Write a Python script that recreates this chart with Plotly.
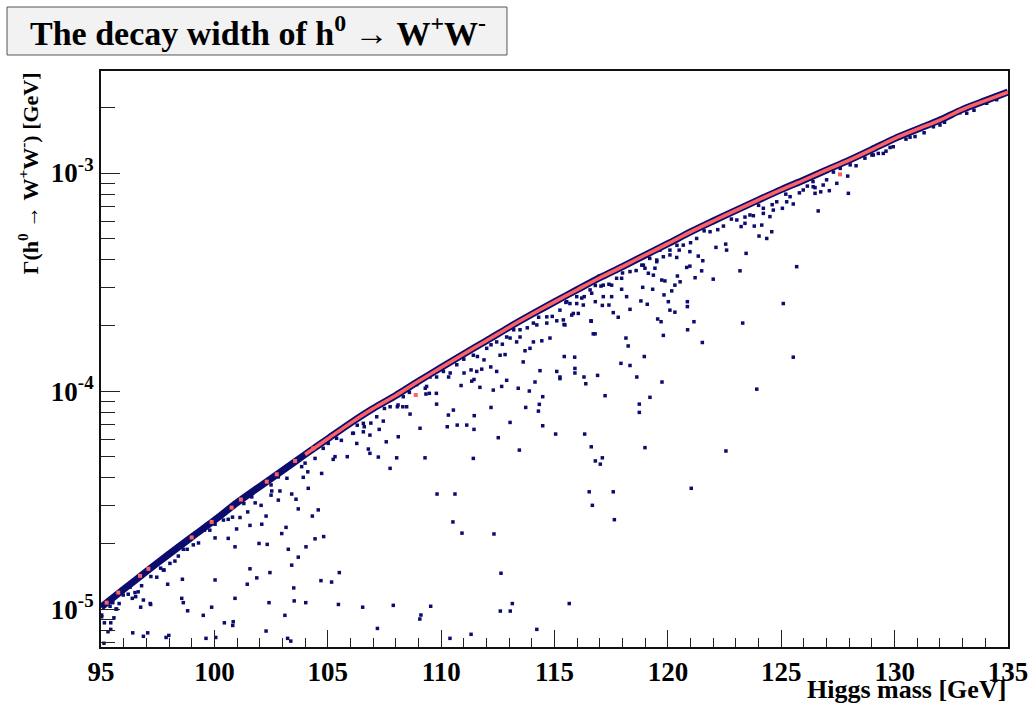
import plotly.graph_objects as go

# Upper edge of the dense band: h0 -> W+W- width at integer Higgs masses
curve_mass = [95, 96, 97, 98, 99, 100, 101, 102, 103, 104, 105, 106, 107, 108, 109, 110,
              111, 112, 113, 114, 115, 116, 117, 118, 119, 120, 121, 122, 123, 124, 125,
              126, 127, 128, 129, 130, 131, 132, 133, 134, 135]
curve_width = [1.019e-5, 1.233e-5, 1.486e-5, 1.786e-5, 2.138e-5, 2.553e-5, 3.076e-5,
               3.648e-5, 4.315e-5, 5.117e-5, 6.039e-5, 7.129e-5, 8.318e-5, 9.55e-5,
               1.109e-4, 1.282e-4, 1.479e-4, 1.702e-4, 1.963e-4, 2.249e-4, 2.564e-4,
               2.917e-4, 3.311e-4, 3.724e-4, 4.207e-4, 4.742e-4, 5.370e-4, 6.026e-4,
               6.745e-4, 7.534e-4, 8.395e-4, 9.290e-4, 1.033e-3, 1.146e-3, 1.282e-3,
               1.439e-3, 1.589e-3, 1.750e-3, 1.959e-3, 2.148e-3, 2.350e-3]

# Red (SM-like) points sitting on the upper edge
red_mass = [95.25, 95.76, 96.72, 97.09, 99.00, 99.88, 100.76, 101.17, 102.31, 102.75,
            103.56, 104.36, 108.88, 127.59]
red_width = [1.07e-5, 1.19e-5, 1.42e-5, 1.53e-5, 2.13e-5, 2.51e-5, 2.92e-5, 3.18e-5,
             3.84e-5, 4.15e-5, 4.78e-5, 5.46e-5, 9.59e-5, 9.86e-4]

# Points just below the band edge
fringe_mass = [98.41, 98.26, 98.04, 97.78, 97.63, 98.63, 99.07, 99.56, 100.03, 100.61,
               101.65, 102.82, 103.85, 104.44, 96.50, 96.64, 96.79, 96.28, 95.98,
               105.02, 105.39, 106.13, 106.57, 107.16, 107.75, 108.33, 108.92, 109.51,
               110.10, 110.69, 111.42, 112.01, 112.45, 112.89, 113.48, 114.07, 114.66,
               115.24, 115.68, 115.54, 115.98, 116.57, 117.15, 117.74, 118.33, 118.92,
               119.51, 120.09, 120.68, 121.27, 121.86, 122.45, 123.04, 123.62, 124.21,
               124.80, 125.39, 125.97, 126.41, 127.30, 128.04, 129.50, 130.68, 132.00,
               133.18, 134.06,
               100.4, 100.8, 101.3, 101.8, 102.5, 103.2, 104.0, 104.8, 105.6, 106.3,
               106.9, 107.5, 108.1, 108.6, 109.3, 109.8, 110.4, 111.0, 111.6, 112.2,
               112.7, 113.2, 113.8, 114.3, 114.9, 115.5, 116.2, 116.8, 117.4, 118.0,
               118.6, 119.2, 119.8, 120.4, 121.0, 121.6, 122.2, 122.8, 123.4, 124.0,
               124.6, 125.2, 125.8, 126.4, 127.0, 127.6, 128.3, 129.0, 129.8, 130.5,
               131.3, 132.2, 133.5, 134.5, 95.4, 95.8, 96.2, 97.2, 98.8, 99.3, 99.8]
fringe_width = [1.75e-5, 1.66e-5, 1.62e-5, 1.51e-5, 1.54e-5, 1.88e-5, 1.97e-5, 2.30e-5,
                2.45e-5, 2.58e-5, 3.27e-5, 4.04e-5, 4.50e-5, 4.91e-5, 1.19e-5, 1.20e-5,
                1.28e-5, 1.26e-5, 1.16e-5, 5.75e-5, 6.07e-5, 6.40e-5, 7.11e-5, 7.62e-5,
                8.47e-5, 9.42e-5, 1.07e-4, 1.16e-4, 1.23e-4, 1.32e-4, 1.46e-4, 1.57e-4,
                1.68e-4, 1.77e-4, 1.91e-4, 2.05e-4, 2.19e-4, 2.35e-4, 2.52e-4, 2.57e-4,
                2.71e-4, 2.91e-4, 3.06e-4, 3.29e-4, 3.53e-4, 3.78e-4, 3.99e-4, 4.43e-4,
                4.67e-4, 5.01e-4, 5.38e-4, 5.71e-4, 6.09e-4, 6.42e-4, 6.89e-4, 7.38e-4,
                7.79e-4, 8.36e-4, 8.65e-4, 1.01e-3, 1.09e-3, 1.23e-3, 1.46e-3, 1.66e-3,
                1.88e-3, 2.09e-3,
                2.56e-5, 2.64e-5, 3.05e-5, 3.07e-5, 3.71e-5, 3.98e-5, 4.67e-5, 5.46e-5,
                5.94e-5, 6.97e-5, 7.13e-5, 8.32e-5, 8.63e-5, 9.86e-5, 1.03e-4, 1.16e-4,
                1.21e-4, 1.40e-4, 1.44e-4, 1.63e-4, 1.64e-4, 1.91e-4, 1.95e-4, 2.18e-4,
                2.20e-4, 2.55e-4, 2.67e-4, 3.05e-4, 3.09e-4, 3.48e-4, 3.57e-4, 4.06e-4,
                4.13e-4, 4.66e-4, 4.79e-4, 5.43e-4, 5.50e-4, 6.15e-4, 6.28e-4, 7.11e-4,
                7.16e-4, 8.00e-4, 8.11e-4, 9.14e-4, 9.31e-4, 1.05e-3, 1.08e-3, 1.21e-3,
                1.31e-3, 1.43e-3, 1.53e-3, 1.71e-3, 1.94e-3, 2.17e-3, 1.03e-5, 1.06e-5,
                1.17e-5, 1.41e-5, 1.88e-5, 2.01e-5, 2.30e-5]

# Scattered model points well below the band
scatter_mass = [
    105.32, 105.24, 104.73, 104.12, 103.92, 104.14, 103.60, 103.41, 102.89, 102.53,
    102.50, 102.82, 103.70, 104.58, 104.32, 103.16, 102.97, 102.06, 102.28, 102.09,
    101.57, 101.47, 101.13, 100.98, 100.61, 100.03, 100.91, 101.97, 102.33, 103.26,
    103.70, 104.04, 104.44, 104.82, 103.41, 101.57, 101.87, 102.45, 101.45, 100.03,
    98.59, 97.94, 97.46, 97.75, 103.50, 104.70, 105.17, 105.51, 100.91, 102.41,
    103.52, 104.03, 105.47, 99.88, 98.56, 98.63, 98.82, 99.51, 103.11, 97.17,
    96.75, 96.87, 96.38, 96.53, 95.66, 95.57, 95.03,
    115.98, 115.83, 115.39, 115.10, 114.66, 114.22, 114.80, 114.44, 114.07, 113.92,
    113.70, 113.48, 113.33, 113.04, 112.82, 112.60, 111.89, 112.19, 112.45, 112.89,
    112.30, 112.67, 113.40, 113.62, 114.36, 114.14, 113.89, 114.48, 114.33, 114.29,
    113.73, 115.10, 115.24, 115.90, 115.90, 115.43, 111.57, 111.32, 111.79, 111.01,
    111.35, 111.45, 110.88, 111.71, 110.33, 109.79, 109.80, 109.48, 109.33, 109.36,
    108.48, 108.31, 108.07, 108.63, 110.32, 110.54, 111.46, 112.20, 113.04, 114.48,
    115.05, 113.45, 112.52, 111.42, 111.13, 110.71, 110.27, 111.45, 109.07, 108.11,
    107.58, 106.86, 106.28, 106.79, 106.86, 105.86, 107.23, 108.04, 109.29, 107.75,
    107.45, 106.57, 106.61, 106.10, 107.27,
    126.49, 126.63, 125.53, 125.24, 125.05, 124.65, 124.50, 124.21, 124.14, 124.58,
    124.36, 124.02, 123.81, 123.77, 123.40, 123.23, 125.68, 125.09, 123.45, 123.18,
    122.59, 122.55, 122.12, 122.00, 123.30, 121.20, 121.54, 121.49, 120.97, 120.83,
    121.34, 120.97, 120.54, 120.42, 120.31, 120.17, 119.87, 119.73, 119.83, 120.02,
    120.31, 120.09, 120.86, 120.86, 121.15, 119.55, 119.70, 119.09, 118.81, 118.89,
    119.33, 119.36, 119.14, 118.85, 118.99, 119.43, 119.51, 120.09, 120.39, 120.50,
    119.65, 118.33, 117.96, 117.59, 117.81, 117.11, 117.40, 116.80, 116.64, 117.15,
    117.52, 117.96, 117.52, 117.05, 116.98, 116.31, 116.27, 116.05, 115.76, 115.46,
    116.61, 118.18,
    125.53, 123.92, 122.56, 121.03, 121.52, 120.87, 119.80, 119.74, 119.21, 118.96,
    118.99, 118.74, 118.74, 118.63, 118.33, 117.93, 118.25, 118.15, 117.23, 116.90,
    116.79, 116.71, 116.62, 116.38, 116.30, 115.89, 115.24, 115.42, 116.33, 116.62,
    117.11, 116.80, 117.02, 116.53, 117.59, 116.67, 117.64,
    127.93, 127.96, 127.45, 127.12, 126.85, 126.74, 126.49, 126.15, 129.28, 129.06,
    128.69, 129.62, 129.94, 130.90, 131.71, 132.88,
    95.52, 95.69, 97.19, 100.44, 100.81, 100.83, 102.28, 106.54, 107.89, 109.11,
    109.06, 109.54, 112.61, 113.05, 113.14, 115.65, 107.19, 111.32, 110.39, 114.22,
    99.63, 100.06, 96.40, 96.87, 97.06, 97.87, 97.99, 103.23, 103.37, 95.13,
    95.31, 95.43, 95.15, 95.43, 95.03,
    109.82, 110.61, 110.52, 110.92, 112.33, 112.64,
]
scatter_width = [
    5.00e-5, 4.86e-5, 4.19e-5, 4.26e-5, 4.02e-5, 3.58e-5, 3.19e-5, 3.37e-5, 3.48e-5, 3.48e-5,
    3.33e-5, 3.16e-5, 2.88e-5, 2.85e-5, 2.67e-5, 2.37e-5, 2.22e-5, 2.99e-5, 2.67e-5, 2.45e-5,
    2.42e-5, 2.79e-5, 2.63e-5, 2.33e-5, 2.11e-5, 2.12e-5, 1.93e-5, 2.00e-5, 1.98e-5, 1.88e-5,
    1.73e-5, 1.93e-5, 2.10e-5, 2.15e-5, 1.59e-5, 1.53e-5, 1.39e-5, 1.47e-5, 1.30e-5, 1.36e-5,
    1.37e-5, 1.30e-5, 1.40e-5, 1.51e-5, 1.25e-5, 1.35e-5, 1.33e-5, 1.47e-5, 1.12e-5, 1.07e-5,
    1.09e-5, 1.07e-5, 1.05e-5, 1.02e-5, 1.12e-5, 1.07e-5, 9.82e-6, 9.36e-6, 9.36e-6, 1.06e-5,
    1.02e-5, 1.10e-5, 1.12e-5, 1.14e-5, 1.00e-5, 9.12e-6, 9.22e-6,
    2.52e-4, 2.27e-4, 2.12e-4, 2.10e-4, 2.05e-4, 2.01e-4, 1.75e-4, 1.70e-4, 1.68e-4, 1.57e-4,
    1.53e-4, 1.77e-4, 1.68e-4, 1.75e-4, 1.47e-4, 1.46e-4, 1.39e-4, 1.29e-4, 1.23e-4, 1.12e-4,
    1.01e-4, 1.05e-4, 1.03e-4, 1.36e-4, 1.24e-4, 1.10e-4, 1.00e-4, 9.42e-5, 8.69e-5, 8.09e-5,
    8.41e-5, 1.23e-4, 1.16e-4, 1.27e-4, 1.21e-4, 1.44e-4, 1.23e-4, 1.25e-4, 1.26e-4, 1.21e-4,
    1.11e-4, 1.13e-4, 1.06e-4, 1.04e-4, 1.16e-4, 9.76e-5, 8.71e-5, 9.76e-5, 9.69e-5, 1.05e-4,
    8.47e-5, 8.47e-5, 8.47e-5, 7.84e-5, 7.76e-5, 8.18e-5, 7.71e-5, 8.41e-5, 7.18e-5, 6.93e-5,
    6.35e-5, 5.36e-5, 6.11e-5, 4.91e-5, 6.98e-5, 6.98e-5, 6.86e-5, 6.67e-5, 6.75e-5, 6.17e-5,
    5.85e-5, 6.28e-5, 5.75e-5, 5.42e-5, 5.18e-5, 5.00e-5, 4.98e-5, 4.94e-5, 4.94e-5, 4.42e-5,
    7.28e-5, 6.50e-5, 6.86e-5, 6.40e-5, 6.67e-5,
    8.07e-4, 6.70e-4, 7.21e-4, 7.38e-4, 6.89e-4, 6.76e-4, 6.31e-4, 6.53e-4, 5.77e-4, 5.38e-4,
    5.01e-4, 5.14e-4, 5.71e-4, 6.37e-4, 5.88e-4, 5.68e-4, 3.72e-4, 2.52e-4, 4.28e-4, 3.56e-4,
    4.43e-4, 4.72e-4, 4.56e-4, 3.26e-4, 2.05e-4, 3.31e-4, 3.96e-4, 3.56e-4, 3.74e-4, 3.69e-4,
    4.16e-4, 4.36e-4, 3.17e-4, 3.37e-4, 3.06e-4, 2.88e-4, 3.20e-4, 3.23e-4, 2.76e-4, 2.57e-4,
    2.30e-4, 2.35e-4, 2.57e-4, 2.44e-4, 2.08e-4, 2.14e-4, 2.08e-4, 2.50e-4, 2.59e-4, 2.99e-4,
    2.93e-4, 3.40e-4, 3.47e-4, 3.78e-4, 3.66e-4, 3.66e-4, 3.92e-4, 4.21e-4, 4.10e-4, 4.43e-4,
    4.43e-4, 2.37e-4, 2.93e-4, 2.29e-4, 2.18e-4, 2.47e-4, 2.48e-4, 2.57e-4, 2.81e-4, 2.71e-4,
    2.71e-4, 3.29e-4, 3.06e-4, 3.03e-4, 3.37e-4, 2.71e-4, 2.48e-4, 2.27e-4, 2.23e-4, 2.01e-4,
    2.10e-4, 2.71e-4,
    1.43e-4, 1.02e-4, 5.31e-5, 3.58e-5, 1.67e-4, 1.91e-4, 1.80e-4, 1.10e-4, 9.36e-5, 1.44e-4,
    5.50e-5, 8.71e-5, 7.98e-5, 1.16e-4, 1.31e-4, 1.34e-4, 1.61e-4, 1.75e-4, 9.52e-5, 1.18e-4,
    1.83e-4, 1.83e-4, 2.09e-4, 1.08e-4, 1.16e-4, 1.43e-4, 1.14e-4, 2.02e-4, 6.35e-5, 5.55e-5,
    4.94e-5, 4.78e-5, 4.62e-5, 3.45e-5, 3.45e-5, 2.99e-5, 2.57e-5,
    9.68e-4, 8.07e-4, 8.97e-4, 8.30e-4, 8.81e-4, 8.20e-4, 8.57e-4, 8.71e-4, 1.23e-3, 1.21e-3,
    1.17e-3, 1.26e-3, 1.32e-3, 1.47e-3, 1.63e-3, 1.89e-3,
    1.07e-5, 1.00e-5, 1.05e-5, 8.65e-6, 8.41e-6, 8.75e-6, 7.93e-6, 1.02e-5, 1.04e-5, 9.39e-6,
    9.00e-6, 1.03e-5, 9.79e-6, 9.79e-6, 1.06e-5, 1.06e-5, 8.15e-6, 7.66e-6, 7.34e-6, 8.07e-6,
    7.34e-6, 7.41e-6, 7.78e-6, 7.50e-6, 7.78e-6, 7.41e-6, 7.57e-6, 7.34e-6, 7.13e-6, 6.97e-6,
    7.87e-6, 8.07e-6, 8.65e-6, 8.65e-6, 9.39e-6,
    3.37e-5, 3.37e-5, 2.51e-5, 2.23e-5, 2.21e-5, 1.46e-5,
]

x_ticks = [95, 100, 105, 110, 115, 120, 125, 130, 135]
y_ticks = [1e-5, 1e-4, 1e-3]
y_ticktext = ["10<sup>-5</sup>", "10<sup>-4</sup>", "10<sup>-3</sup>"]

NAVY = "#0c0c6e"
SALMON = "#ff6262"
SERIF = "Liberation Serif"

fig = go.Figure()

fig.add_trace(go.Scatter(x=curve_mass, y=curve_width, mode="lines",
                         line=dict(color=NAVY, width=7, shape="spline", smoothing=0.8),
                         hoverinfo="skip"))
fig.add_trace(go.Scatter(x=fringe_mass, y=fringe_width, mode="markers",
                         marker=dict(symbol="square", size=3.5, color=NAVY)))
fig.add_trace(go.Scatter(x=scatter_mass, y=scatter_width, mode="markers",
                         marker=dict(symbol="square", size=3.5, color=NAVY)))
fig.add_trace(go.Scatter(x=curve_mass[9:], y=curve_width[9:], mode="lines",
                         line=dict(color=SALMON, width=3.5, shape="spline", smoothing=0.8),
                         hoverinfo="skip"))
fig.add_trace(go.Scatter(x=red_mass, y=red_width, mode="markers",
                         marker=dict(symbol="square", size=4, color=SALMON)))

x_minor = [v for v in range(96, 135) if v % 5 != 0]
y_minor = [m * 10.0 ** e for e in (-6, -5, -4, -3) for m in range(2, 10)]

tick_font = dict(family=SERIF, size=27, color="black", weight="bold")

fig.update_layout(
    width=1033, height=706,
    margin=dict(l=101, r=25, t=71, b=59, autoexpand=False),
    paper_bgcolor="white", plot_bgcolor="white",
    showlegend=False,
    xaxis=dict(
        range=[95, 135], showgrid=False, zeroline=False, automargin=False,
        showline=True, linecolor="#111111", linewidth=2, mirror=True,
        ticks="inside", ticklen=17, tickwidth=1, tickcolor="#222222",
        tickvals=x_ticks, ticktext=[str(v) for v in x_ticks],
        tickfont=tick_font,
        minor=dict(ticks="inside", ticklen=9, tickwidth=1, tickcolor="#222222",
                   tickvals=x_minor, showgrid=False),
    ),
    yaxis=dict(
        type="log", range=[-5.174, -2.532], showgrid=False, zeroline=False,
        automargin=False,
        showline=True, linecolor="#111111", linewidth=2, mirror=True,
        ticks="inside", ticklen=19, tickwidth=1, tickcolor="#222222",
        tickvals=y_ticks, ticktext=y_ticktext,
        tickfont=tick_font,
        minor=dict(ticks="inside", ticklen=14, tickwidth=1, tickcolor="#222222",
                   tickvals=y_minor, showgrid=False),
    ),
    shapes=[dict(type="rect", xref="paper", yref="paper",
                 x0=-0.1036, x1=0.4476, y0=1.0278, y1=1.1111,
                 fillcolor="#f2f2f2", line=dict(color="#555555", width=1))],
    annotations=[
        dict(text="The decay width of h<sup>0</sup> \u2192 W<sup>+</sup>W<sup>-</sup>",
             xref="paper", yref="paper", x=0.1731, y=1.0694,
             xanchor="center", yanchor="middle", showarrow=False,
             font=dict(family=SERIF, size=34, color="black", weight="bold")),
        dict(text="\u0393(h<sup>0</sup> \u2192 W<sup>+</sup>W<sup>-</sup>) [GeV]",
             xref="paper", yref="paper", x=-0.0800, y=1.0017,
             xanchor="center", yanchor="top", textangle=-90, showarrow=False,
             font=dict(family=SERIF, size=22, color="black", weight="bold")),
        dict(text="Higgs mass [GeV]",
             xref="paper", yref="paper", x=1.0, y=-0.1024,
             xanchor="right", yanchor="bottom", showarrow=False,
             font=dict(family=SERIF, size=26, color="black", weight="bold")),
    ],
)

fig.write_html("out.html")
